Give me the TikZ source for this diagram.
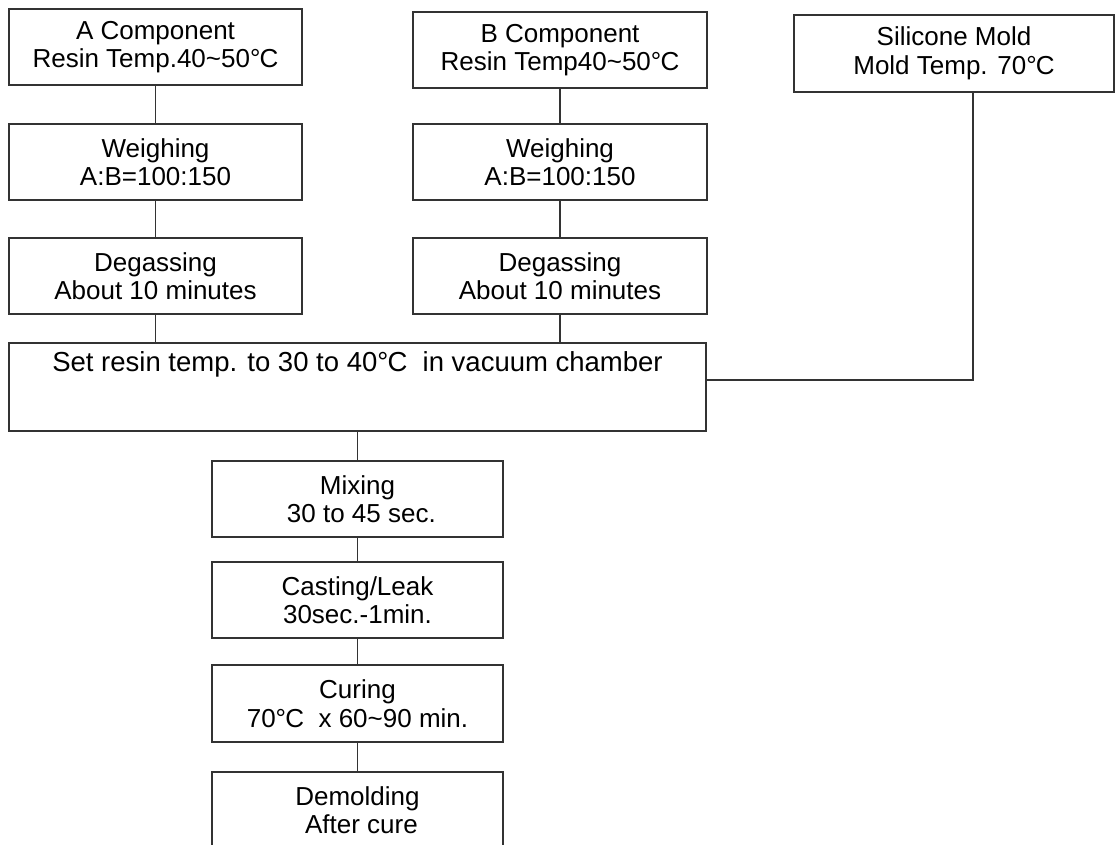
\documentclass[tikz,border=0pt]{standalone}
\usepackage{fontspec}
\setmainfont{Liberation Sans}
\newcommand{\dgc}{°\kern-0.03em C}
\newcommand{\tld}{\textasciitilde}
\begin{document}
\begin{tikzpicture}[x=1pt,y=-1pt,
  box/.style={draw=black!80, line width=1.4pt, inner sep=0pt, align=center,
    font=\fontsize{26}{28.5}\selectfont},
  lbl/.style={inner sep=0pt, align=center, font=\fontsize{27.5}{31}\selectfont},
  conn/.style={draw=black!80, line width=1.4pt}]
\useasboundingbox (0,0) rectangle (1115,844);
\clip (0,0) rectangle (1115,844);
\fill[white] (0,0) rectangle (1115,844);
% column A
\node[box, minimum width=293pt, minimum height=76pt] (A) at (155.5,47) {A Component\\Resin Temp.40\tld 50\dgc};
\node[box, minimum width=293pt, minimum height=76pt] (wA) at (155.5,162) {Weighing\\A:B=100:150};
\node[box, minimum width=293pt, minimum height=76pt] (dA) at (155.5,276) {Degassing\\About 10 minutes};
% column B
\node[box, minimum width=294pt, minimum height=76pt] (B) at (560,50) {B Component\\Resin Temp40\tld 50\dgc};
\node[box, minimum width=294pt, minimum height=76pt] (wB) at (560,162) {Weighing\\A:B=100:150};
\node[box, minimum width=294pt, minimum height=76pt] (dB) at (560,276) {Degassing\\About 10 minutes};
% silicone mold
\node[box, minimum width=320pt, minimum height=77pt] (S) at (954,53.5) {Silicone Mold\\Mold Temp. 70\dgc};
% set resin box
\node[box, minimum width=697pt, minimum height=88pt] (R) at (357.5,387) {};
\node[lbl] (Rt) at (357.5,364) {Set resin temp. to 30 to 40\dgc\ \ in vacuum chamber};
% lower chain
\node[box, minimum width=291pt, minimum height=76pt] (M) at (357.5,499) {Mixing\\\hspace*{0.3em}30 to 45 sec.};
\node[box, minimum width=291pt, minimum height=76pt] (C) at (357.5,600) {Casting/Leak\\30sec.-1min.};
\node[box, minimum width=291pt, minimum height=77pt] (U) at (357.5,703.5) {Curing\\70\dgc\ \ x 60\tld 90 min.};
\node[box, minimum width=291pt, minimum height=76pt] (D) at (357.5,810) {Demolding\\\hspace*{0.3em}After cure};
% connectors
\draw[conn] (A) -- (wA);
\draw[conn] (wA) -- (dA);
\draw[conn] (dA.south) -- (dA.south |- R.north);
\draw[conn] (B) -- (wB);
\draw[conn] (wB) -- (dB);
\draw[conn] (dB.south) -- (dB.south |- R.north);
\coordinate (J) at (973,380);
\draw[conn] (S.south -| J) -- (J) -- (J -| R.east);
\draw[conn] (R.south) -- (M.north);
\draw[conn] (M) -- (C);
\draw[conn] (C) -- (U);
\draw[conn] (U) -- (D);
\end{tikzpicture}
\end{document}
